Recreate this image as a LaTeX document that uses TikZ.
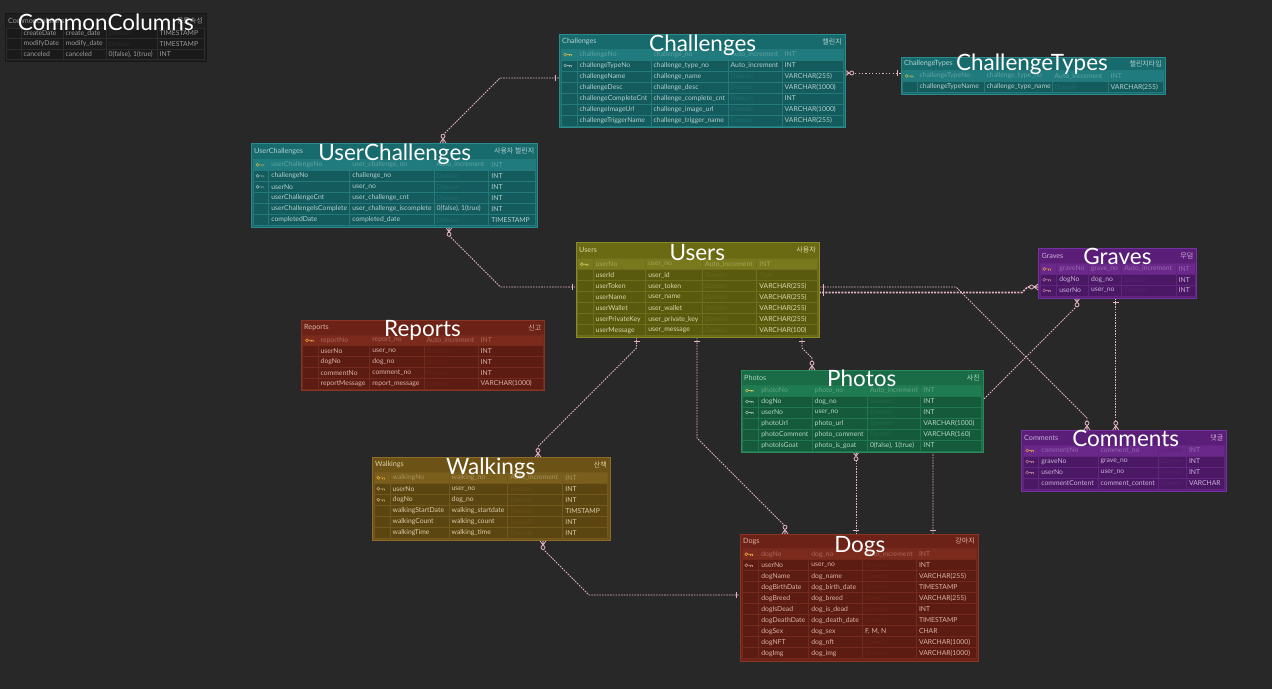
\documentclass[tikz,border=0pt]{standalone}
\usepackage{fontspec}
\setmainfont{Lato}
\newfontfamily\krfont{Noto Sans CJK KR}
\usetikzlibrary{calc}
\pgfdeclarelayer{back}\pgfdeclarelayer{links}\pgfsetlayers{back,links,main}

\definecolor{bgc}{HTML}{282828}
\definecolor{linkc}{HTML}{E3B3C3}
% family colours: T title/box, R row, P pk row, L cell lines, X text, D faint, E edge, I pk key, J fk key
\definecolor{grayT}{HTML}{1E1E1E}\definecolor{grayR}{HTML}{1A1A1A}\definecolor{grayP}{HTML}{1A1A1A}
\definecolor{grayL}{HTML}{2C2C2C}\definecolor{grayX}{HTML}{9A9A9A}\definecolor{grayD}{HTML}{2A2A2A}
\definecolor{grayE}{HTML}{181818}\definecolor{grayI}{HTML}{777777}\definecolor{grayJ}{HTML}{777777}
\definecolor{tealT}{HTML}{176B6D}\definecolor{tealR}{HTML}{135B5D}\definecolor{tealP}{HTML}{1F7B7D}
\definecolor{tealL}{HTML}{25797B}\definecolor{tealX}{HTML}{B4D0D0}\definecolor{tealD}{HTML}{1F6D6F}
\definecolor{tealE}{HTML}{2B8A8C}\definecolor{tealI}{HTML}{B8B050}\definecolor{tealJ}{HTML}{8FB0B0}
\definecolor{oliveT}{HTML}{6A6A13}\definecolor{oliveR}{HTML}{5A5A0F}\definecolor{oliveP}{HTML}{78781C}
\definecolor{oliveL}{HTML}{6E6E1E}\definecolor{oliveX}{HTML}{D9D9A8}\definecolor{oliveD}{HTML}{68681A}
\definecolor{oliveE}{HTML}{8A8A2A}\definecolor{oliveI}{HTML}{D0C060}\definecolor{oliveJ}{HTML}{B0B070}
\definecolor{redT}{HTML}{6C2216}\definecolor{redR}{HTML}{5C1C12}\definecolor{redP}{HTML}{7C2A1C}
\definecolor{redL}{HTML}{74291D}\definecolor{redX}{HTML}{DDB2A8}\definecolor{redD}{HTML}{6A2419}
\definecolor{redE}{HTML}{8A3426}\definecolor{redI}{HTML}{E0A040}\definecolor{redJ}{HTML}{C08070}
\definecolor{purpleT}{HTML}{5A1E78}\definecolor{purpleR}{HTML}{4B1865}\definecolor{purpleP}{HTML}{6A288A}
\definecolor{purpleL}{HTML}{632480}\definecolor{purpleX}{HTML}{CBB0DA}\definecolor{purpleD}{HTML}{58216F}
\definecolor{purpleE}{HTML}{7432A0}\definecolor{purpleI}{HTML}{D09050}\definecolor{purpleJ}{HTML}{B07090}
\definecolor{greenT}{HTML}{1A6C47}\definecolor{greenR}{HTML}{155B3B}\definecolor{greenP}{HTML}{1F7B52}
\definecolor{greenL}{HTML}{217850}\definecolor{greenX}{HTML}{B0D6C2}\definecolor{greenD}{HTML}{1F6B47}
\definecolor{greenE}{HTML}{2A8A5E}\definecolor{greenI}{HTML}{C0C060}\definecolor{greenJ}{HTML}{90B8A0}
\definecolor{brownT}{HTML}{6C5214}\definecolor{brownR}{HTML}{5B4510}\definecolor{brownP}{HTML}{7A5E1C}
\definecolor{brownL}{HTML}{73591E}\definecolor{brownX}{HTML}{DCCDA8}\definecolor{brownD}{HTML}{68501A}
\definecolor{brownE}{HTML}{8C6C28}\definecolor{brownI}{HTML}{E0A040}\definecolor{brownJ}{HTML}{C0A070}

\tikzset{
  tbox/.style={anchor=north west, inner sep=0pt, outer sep=0pt, line width=0.8pt},
  ttl/.style={anchor=west, inner sep=0pt, font=\fontsize{7.2}{8}\selectfont},
  tkr/.style={anchor=east, inner sep=0pt, font=\krfont\fontsize{7}{8}\selectfont},
  cell/.style={anchor=west, inner sep=0pt, font=\fontsize{6.8}{8}\selectfont},
  big/.style={anchor=base, inner sep=0pt, text=white, font=\fontsize{22.5}{26}\selectfont},
  rel/.style={draw=linkc, line width=0.8pt, dash pattern=on 1.6pt off 1.1pt},
  reldot/.style={draw=linkc, line width=1pt, dash pattern=on 1.2pt off 2.2pt},
  relthick/.style={draw=linkc, line width=1.7pt, dash pattern=on 2pt off 1.2pt},
  mk/.style={draw=linkc, line width=0.8pt, solid},
}

\newcommand\settable[9]{\def\cA{#2}\def\cB{#3}\def\cC{#4}\def\cD{#5}\def\cE{#6}\def\cF{#7}\def\rT{#8}\def\rH{#9}%
  \edef\colT{#1T}\edef\colR{#1R}\edef\colP{#1P}\edef\colL{#1L}\edef\colX{#1X}%
  \edef\colD{#1D}\edef\colE{#1E}\edef\colI{#1I}\edef\colJ{#1J}}
\newcommand\dm[1]{\textcolor{\colD}{\itshape #1}}
\newcommand\keyicon[3]{\draw[draw=#3, line width=0.6pt] ({#1+1.8},#2) circle[radius=1.5pt]
   ({#1+3.3},#2) -- ({#1+8},#2) ({#1+6},#2) -- ({#1+6},{#2+1.6}) ({#1+8},#2) -- ({#1+8},{#2+1.6});}
\newcommand\tablebox[7]{%
  \node[tbox, fill=\colT, draw=\colE, minimum width={(#4)-(#2)}, minimum height={(#5)-(#3)}] (#1) at (#2,#3) {};
  \node[ttl, text=\colX] (#1-title) at ({#2+3},{(#3+\rT)/2}) {#6};
  \node[tkr, text=\colX] (#1-kor) at ({#4-3},{(#3+\rT)/2}) {#7};}
\newcommand\trow[7]{%
  \pgfmathsetmacro\ya{\rT+(#2-1)*\rH}%
  \pgfmathsetmacro\yb{\ya+\rH}%
  \pgfmathsetmacro\ym{\ya+\rH/2}%
  \if p#3\edef\rowc{\colP}\edef\rowt{\colX!45!\colP}\else\edef\rowc{\colR}\edef\rowt{\colX}\fi
  \fill[fill=\rowc] (\cA,\ya) rectangle (\cF,\yb);
  \draw[draw=\colL, line width=0.5pt] (\cA,\ya) rectangle (\cF,\yb) (\cB,\ya) -- (\cB,\yb)
     (\cC,\ya) -- (\cC,\yb) (\cD,\ya) -- (\cD,\yb) (\cE,\ya) -- (\cE,\yb);
  \if p#3\keyicon{\cA+2.5}{\ym}{\colI}\fi
  \if f#3\keyicon{\cA+2.5}{\ym}{\colJ}\fi
  \node[cell, text=\rowt] (#1-#2-l) at ({\cB+2.5},\ym) {#4};
  \node[cell, text=\rowt] (#1-#2-p) at ({\cC+2.5},\ym) {#5};
  \node[cell, text=\rowt] (#1-#2-d) at ({\cD+2.5},\ym) {#6};
  \node[cell, text=\rowt] (#1-#2-t) at ({\cE+2.5},\ym) {#7};}
\newcommand\fkend[3]{%
  \draw[mk] ($(#1)+({3*(#3)},{-3*(#2)})$) -- ($(#1)+({4.5*(#2)},{4.5*(#3)})$) -- ($(#1)+({-3*(#3)},{3*(#2)})$)
     (#1) -- ($(#1)+({4.5*(#2)},{4.5*(#3)})$);
  \filldraw[mk, fill=bgc] ($(#1)+({6.8*(#2)},{6.8*(#3)})$) circle[radius=2pt];}
\newcommand\pkend[3]{%
  \draw[mk] ($(#1)+({4*(#2)+3*(#3)},{4*(#3)-3*(#2)})$) -- ($(#1)+({4*(#2)-3*(#3)},{4*(#3)+3*(#2)})$);}

\begin{document}
\begin{tikzpicture}[x=1pt,y=-1pt]
\begin{pgfonlayer}{back}
\fill[bgc] (0,0) rectangle (1272,689);
\end{pgfonlayer}
\useasboundingbox (0,0) rectangle (1272,689);

% CommonColumns
\settable{gray}{6}{21}{63}{106}{157}{204}{28}{10.5}
\tablebox{cc}{5}{13}{206}{61}{CommonColumns}{공통속성}
\trow{cc}{1}{n}{createDate}{create\_date}{\dm{Domain}}{TIMESTAMP}
\trow{cc}{2}{n}{modifyDate}{modify\_date}{\dm{Domain}}{TIMESTAMP}
\trow{cc}{3}{n}{canceled}{canceled}{0(false), 1(true)}{INT}

% Challenges
\settable{teal}{561}{577}{651}{728}{782}{843}{49}{11}
\tablebox{chal}{559}{34}{845}{127}{Challenges}{챌린지}
\trow{chal}{1}{p}{challengeNo}{challenge\_no}{Auto\_increment}{INT}
\trow{chal}{2}{f}{challengeTypeNo}{challenge\_type\_no}{Auto\_increment}{INT}
\trow{chal}{3}{n}{challengeName}{challenge\_name}{\dm{Domain}}{VARCHAR(255)}
\trow{chal}{4}{n}{challengeDesc}{challenge\_desc}{\dm{Domain}}{VARCHAR(1000)}
\trow{chal}{5}{n}{challengeCompleteCnt}{challenge\_complete\_cnt}{\dm{Domain}}{INT}
\trow{chal}{6}{n}{challengeImageUrl}{challenge\_image\_url}{\dm{Domain}}{VARCHAR(1000)}
\trow{chal}{7}{n}{challengeTriggerName}{challenge\_trigger\_name}{\dm{Domain}}{VARCHAR(255)}

% ChallengeTypes
\settable{teal}{902.5}{917}{984}{1052}{1108}{1163}{70.5}{11}
\tablebox{ctype}{901}{57}{1165}{94}{ChallengeTypes}{챌린지타입}
\trow{ctype}{1}{p}{challengeTypeNo}{challenge\_type\_no}{Auto\_increment}{INT}
\trow{ctype}{2}{n}{challengeTypeName}{challenge\_type\_name}{\dm{Domain}}{VARCHAR(255)}

% UserChallenges
\settable{teal}{253.3}{268.7}{349.7}{434}{488.7}{535.3}{159.3}{11}
\tablebox{uchal}{251}{143}{537.5}{227.5}{UserChallenges}{사용자 챌린지}
\trow{uchal}{1}{p}{userChallengeNo}{user\_challenge\_no}{Auto\_increment}{INT}
\trow{uchal}{2}{f}{challengeNo}{challenge\_no}{\dm{Domain}}{INT}
\trow{uchal}{3}{f}{userNo}{user\_no}{\dm{Domain}}{INT}
\trow{uchal}{4}{n}{userChallengeCnt}{user\_challenge\_cnt}{\dm{Domain}}{INT}
\trow{uchal}{5}{n}{userChallengeIsComplete}{user\_challenge\_iscomplete}{0(false), 1(true)}{INT}
\trow{uchal}{6}{n}{completedDate}{completed\_date}{\dm{Domain}}{TIMESTAMP}

% Users
\settable{olive}{577.5}{593}{645.7}{702.3}{756.7}{817}{258.7}{11}
\tablebox{users}{576}{242}{819}{337}{Users}{사용자}
\trow{users}{1}{p}{userNo}{user\_no}{Auto\_increment}{INT}
\trow{users}{2}{n}{userId}{user\_id}{\dm{Domain}}{\dm{Type}}
\trow{users}{3}{n}{userToken}{user\_token}{\dm{Domain}}{VARCHAR(255)}
\trow{users}{4}{n}{userName}{user\_name}{\dm{Domain}}{VARCHAR(255)}
\trow{users}{5}{n}{userWallet}{user\_wallet}{\dm{Domain}}{VARCHAR(255)}
\trow{users}{6}{n}{userPrivateKey}{user\_private\_key}{\dm{Domain}}{VARCHAR(255)}
\trow{users}{7}{n}{userMessage}{user\_message}{\dm{Domain}}{VARCHAR(100)}

% Reports
\settable{red}{302.7}{318}{369.7}{424}{478}{543}{334.8}{10.9}
\tablebox{reports}{301}{320}{544.5}{390}{Reports}{신고}
\trow{reports}{1}{p}{reportNo}{report\_no}{Auto\_increment}{INT}
\trow{reports}{2}{n}{userNo}{user\_no}{\dm{Domain}}{INT}
\trow{reports}{3}{n}{dogNo}{dog\_no}{\dm{Domain}}{INT}
\trow{reports}{4}{n}{commentNo}{comment\_no}{\dm{Domain}}{INT}
\trow{reports}{5}{n}{reportMessage}{report\_message}{\dm{Domain}}{VARCHAR(1000)}

% Graves
\settable{purple}{1040}{1056.7}{1088.3}{1121.7}{1176}{1195}{263.5}{10.8}
\tablebox{graves}{1038.3}{248}{1196.5}{298}{Graves}{무덤}
\trow{graves}{1}{p}{graveNo}{grave\_no}{Auto\_increment}{INT}
\trow{graves}{2}{f}{dogNo}{dog\_no}{\dm{Domain}}{INT}
\trow{graves}{3}{f}{userNo}{user\_no}{\dm{Domain}}{INT}

% Photos
\settable{green}{742.7}{758.7}{812}{867.3}{920.7}{981.3}{385}{11}
\tablebox{photos}{741}{370}{983}{452}{Photos}{사진}
\trow{photos}{1}{p}{photoNo}{photo\_no}{Auto\_increment}{INT}
\trow{photos}{2}{f}{dogNo}{dog\_no}{\dm{Domain}}{INT}
\trow{photos}{3}{f}{userNo}{user\_no}{\dm{Domain}}{INT}
\trow{photos}{4}{n}{photoUrl}{photo\_url}{\dm{Domain}}{VARCHAR(1000)}
\trow{photos}{5}{n}{photoComment}{photo\_comment}{\dm{Domain}}{VARCHAR(160)}
\trow{photos}{6}{n}{photoIsGoat}{photo\_is\_goat}{0(false), 1(true)}{INT}

% Comments
\settable{purple}{1023}{1038.7}{1098}{1158}{1186.3}{1224.5}{445}{11}
\tablebox{comments}{1021}{430}{1226.5}{491}{Comments}{댓글}
\trow{comments}{1}{p}{commentNo}{comment\_no}{\dm{Domain}}{INT}
\trow{comments}{2}{f}{graveNo}{grave\_no}{\dm{Domain}}{INT}
\trow{comments}{3}{f}{userNo}{user\_no}{\dm{Domain}}{INT}
\trow{comments}{4}{n}{commentContent}{comment\_content}{\dm{Domain}}{VARCHAR}

% Walkings
\settable{brown}{374}{390}{449}{507.7}{562.7}{607.5}{472.3}{11}
\tablebox{walk}{372}{457.3}{610}{540.7}{Walkings}{산책}
\trow{walk}{1}{p}{walkingNo}{walking\_no}{Auto\_increment}{INT}
\trow{walk}{2}{f}{userNo}{user\_no}{\dm{Domain}}{INT}
\trow{walk}{3}{f}{dogNo}{dog\_no}{\dm{Domain}}{INT}
\trow{walk}{4}{n}{walkingStartDate}{walking\_startdate}{\dm{Domain}}{TIMSTAMP}
\trow{walk}{5}{n}{walkingCount}{walking\_count}{\dm{Domain}}{INT}
\trow{walk}{6}{n}{walkingTime}{walking\_time}{\dm{Domain}}{INT}

% Dogs
\settable{red}{742}{758.7}{808.7}{862.3}{916.3}{976}{548.7}{11}
\tablebox{dogs}{740}{534}{978}{661}{Dogs}{강아지}
\trow{dogs}{1}{p}{dogNo}{dog\_no}{Auto\_increment}{INT}
\trow{dogs}{2}{f}{userNo}{user\_no}{\dm{Domain}}{INT}
\trow{dogs}{3}{n}{dogName}{dog\_name}{\dm{Domain}}{VARCHAR(255)}
\trow{dogs}{4}{n}{dogBirthDate}{dog\_birth\_date}{\dm{Domain}}{TIMESTAMP}
\trow{dogs}{5}{n}{dogBreed}{dog\_breed}{\dm{Domain}}{VARCHAR(255)}
\trow{dogs}{6}{n}{dogIsDead}{dog\_is\_dead}{\dm{Domain}}{INT}
\trow{dogs}{7}{n}{dogDeathDate}{dog\_death\_date}{\dm{Domain}}{TIMESTAMP}
\trow{dogs}{8}{n}{dogSex}{dog\_sex}{F, M, N}{CHAR}
\trow{dogs}{9}{n}{dogNFT}{dog\_nft}{\dm{Domain}}{VARCHAR(1000)}
\trow{dogs}{10}{n}{dogImg}{dog\_img}{\dm{Domain}}{VARCHAR(1000)}

% connector end points
\coordinate (c1a) at ([yshift=-39pt]chal.north east);
\coordinate (c1b) at ([yshift=-16pt]ctype.north west);
\coordinate (c2a) at ([xshift=192pt]uchal.north west);
\coordinate (c2b) at ([yshift=-44pt]chal.north west);
\coordinate (c3a) at ([xshift=198pt]uchal.south west);
\coordinate (c3b) at ([yshift=-45pt]users.north west);
\coordinate (c4a) at ([yshift=-50.5pt]users.north east);
\coordinate (c4b) at ([yshift=-39pt]graves.north west);
\coordinate (c5a) at ([yshift=-45pt]users.north east);
\coordinate (c5b) at ([xshift=66pt]comments.north west);
\coordinate (c6a) at ([xshift=77.5pt]graves.south west);
\coordinate (c6b) at ([xshift=94.8pt]comments.north west);
\coordinate (c7a) at ([xshift=38.7pt]graves.south west);
\coordinate (c7b) at ([xshift=193pt]dogs.north west);
\coordinate (c8a) at ([xshift=60.5pt]users.south west);
\coordinate (c8b) at ([xshift=166pt]walk.north west);
\coordinate (c9a) at ([xshift=121pt]users.south west);
\coordinate (c9b) at ([xshift=45pt]dogs.north west);
\coordinate (c10a) at ([xshift=115pt]photos.south west);
\coordinate (c10b) at ([xshift=116pt]dogs.north west);
\coordinate (c11a) at ([xshift=171pt]walk.south west);
\coordinate (c11b) at ([yshift=-61pt]dogs.north west);
\coordinate (c12a) at ([xshift=226pt]users.south west);
\coordinate (c12b) at ([xshift=71pt]photos.north west);

\begin{pgfonlayer}{links}
\draw[reldot] (c1a) -- (c1b);
\draw[rel] (c2a) -- ++(0,-8) -- ++(57,-57) -- (c2b);
\draw[rel] (c3a) -- ++(0,8) -- ++(51.5,51.5) -- (c3b);
\draw[relthick] (c4a) -- ++(203,0) -- ++(5.5,-5.5) -- (c4b);
\draw[rel] (c5a) -- ++(137,0) -- ++(131,131) -- (c5b);
\draw[rel] (c6a) -- (c6b);
\draw[rel] (c7a) -- ++(0,8) -- ++(-144,144) -- (c7b);
\draw[rel] (c8a) -- ++(0,11) -- ++(-98.5,98.5) -- (c8b);
\draw[rel] (c9a) -- ++(0,101) -- ++(88,88) -- (c9b);
\draw[rel] (c10a) -- (c10b);
\draw[rel] (c11a) -- ++(0,8.3) -- ++(46,46) -- (c11b);
\draw[rel] (c12a) -- ++(0,11) -- ++(10,10) -- (c12b);
\fkend{c1a}{1}{0}\pkend{c1b}{-1}{0}
\fkend{c2a}{0}{-1}\pkend{c2b}{-1}{0}
\fkend{c3a}{0}{1}\pkend{c3b}{-1}{0}
\pkend{c4a}{1}{0}\fkend{c4b}{-1}{0}
\pkend{c5a}{1}{0}\fkend{c5b}{0}{-1}
\pkend{c6a}{0}{1}\fkend{c6b}{0}{-1}
\fkend{c7a}{0}{1}\pkend{c7b}{0}{-1}
\pkend{c8a}{0}{1}\fkend{c8b}{0}{-1}
\pkend{c9a}{0}{1}\fkend{c9b}{0}{-1}
\fkend{c10a}{0}{1}\pkend{c10b}{0}{-1}
\fkend{c11a}{0}{1}\pkend{c11b}{-1}{0}
\pkend{c12a}{0}{1}\fkend{c12b}{0}{-1}
\end{pgfonlayer}

% big labels
\node[big] (cc-big) at (105.8,30) {CommonColumns};
\node[big] (chal-big) at (702.7,51.7) {Challenges};
\node[big] (ctype-big) at (1032,70.7) {ChallengeTypes};
\node[big] (uchal-big) at (394.7,160.7) {UserChallenges};
\node[big] (users-big) at (697.3,260.7) {Users};
\node[big] (reports-big) at (422.5,336.7) {Reports};
\node[big] (graves-big) at (1117.5,264.7) {Graves};
\node[big] (photos-big) at (861.7,386.7) {Photos};
\node[big] (comments-big) at (1125.7,446.7) {Comments};
\node[big] (walk-big) at (490.7,474.7) {Walkings};
\node[big] (dogs-big) at (859.8,552.3) {Dogs};
\end{tikzpicture}
\end{document}
